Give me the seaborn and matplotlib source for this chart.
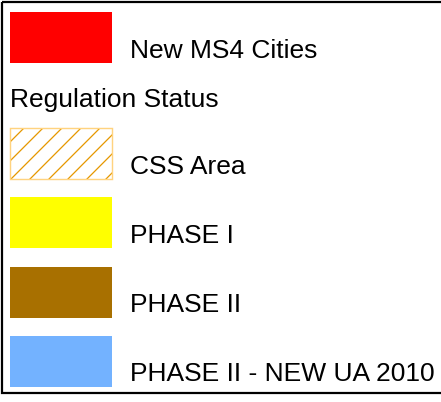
import matplotlib
matplotlib.use("Agg")
import matplotlib.pyplot as plt
from matplotlib.patches import Rectangle
import seaborn as sns

# ----- Legend content -----
labels = ["New MS4 Cities", "CSS Area", "PHASE I", "PHASE II", "PHASE II - NEW UA 2010"]
fill_colors = ["#FF0000", "none", "#FFFF00", "#A87000", "#73B2FF"]
hatches = ["", "//", "", "", ""]
group_title = "Regulation Status"
css_hatch_color = "#E69800"
css_edge_color = "#FFD37F"

# ----- Configuration -----
sns.set_theme(style="white")
plt.rcParams["font.family"] = ["Liberation Sans", "DejaVu Sans"]
plt.rcParams["hatch.linewidth"] = 0.8

W, H, DPI = 441, 402, 114
fig = plt.figure(figsize=(W / DPI, H / DPI), dpi=DPI)
fig.patch.set_facecolor("white")
ax = fig.add_axes([0, 0, 1, 1])
ax.set_xlim(0, W)
ax.set_ylim(H, 0)
ax.axis("off")

# layout (pixels)
sw_left, sw_width, sw_height = 10, 102, 51
first_top, group_top, pitch = 12, 128, 69.3
tops = [first_top] + [group_top + i * pitch for i in range(len(labels) - 1)]
centers = [t + sw_height / 2 for t in tops]
font_px = 26.4
fsize = font_px * 72 / DPI

for lab, col, hat, cy, top in zip(labels, fill_colors, hatches, centers, tops):
    if hat:
        ax.barh(cy, sw_width, left=sw_left, height=sw_height, color="white",
                edgecolor=css_hatch_color, hatch=hat, linewidth=0)
        ax.barh(cy, sw_width, left=sw_left, height=sw_height, fill=False,
                edgecolor=css_edge_color, linewidth=0.9)
    else:
        ax.barh(cy, sw_width, left=sw_left, height=sw_height, color=col, linewidth=0)
    ax.text(130, top + 45.5, lab, fontsize=fsize, color="black", va="baseline", ha="left")

ax.text(10, 107, group_title, fontsize=fsize, color="black", va="baseline", ha="left")

# frame (right side runs off the image)
ax.add_patch(Rectangle((2, 2), 480, 390.5, fill=False, edgecolor="black",
                       linewidth=1.4, clip_on=True))

fig.savefig("out.png", dpi=DPI, facecolor="white")
